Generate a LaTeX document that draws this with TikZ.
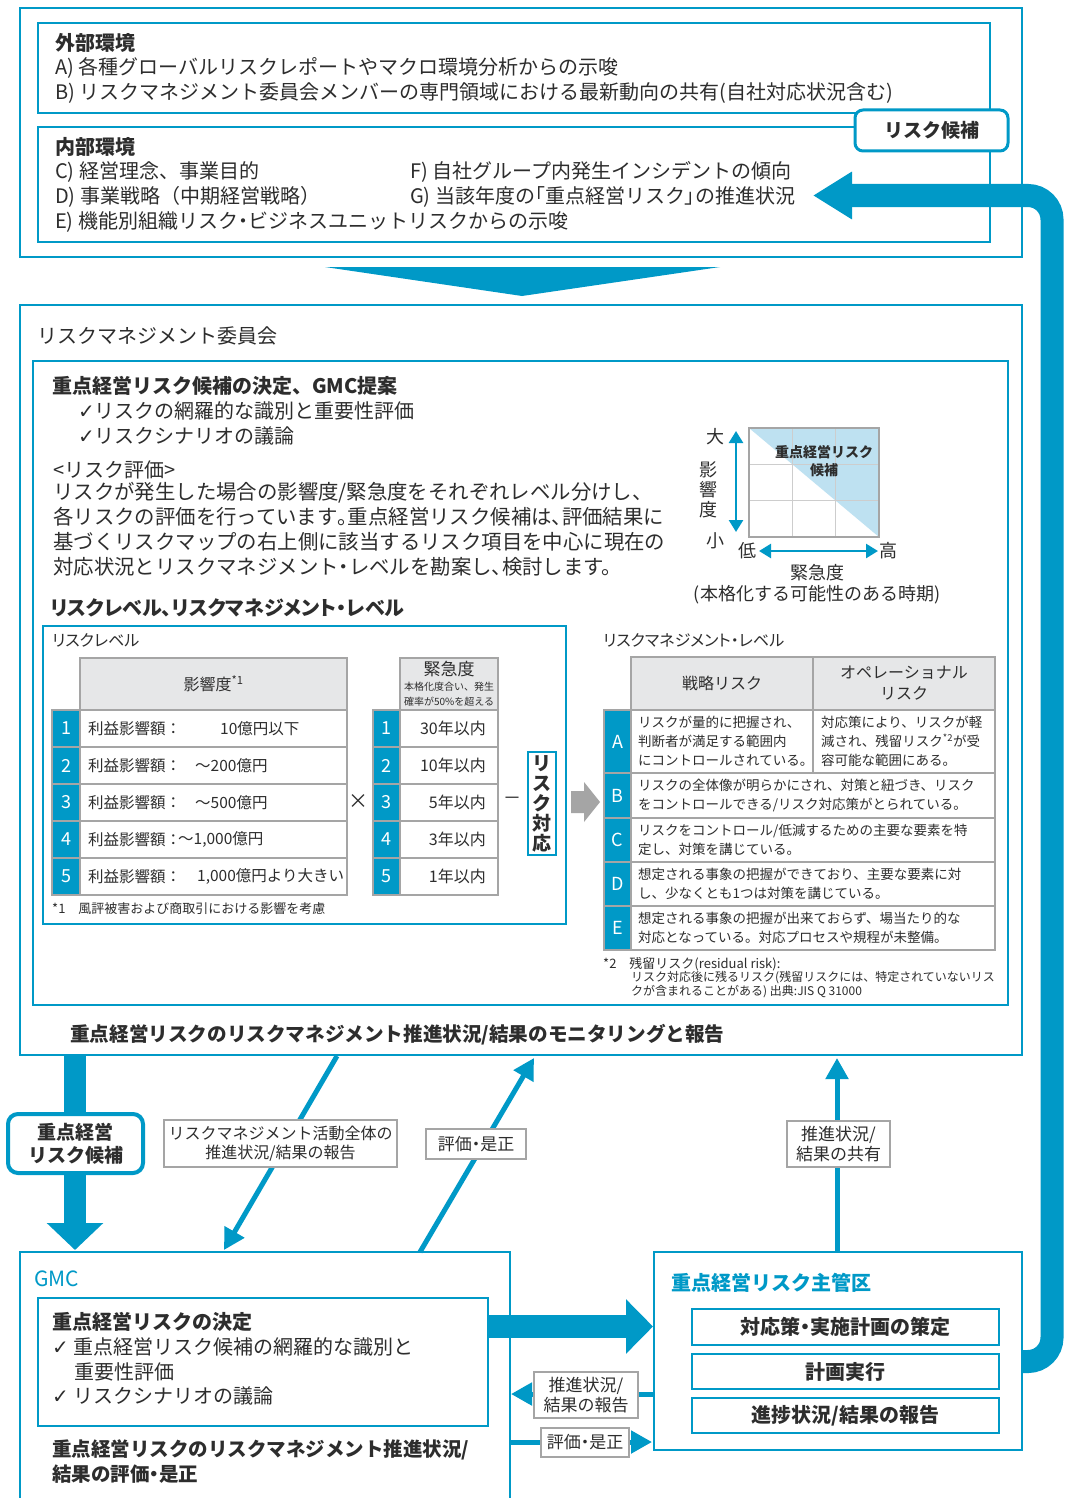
\documentclass[tikz,border=0pt]{standalone}
\usepackage{fontspec}
\setmainfont{Noto Sans CJK JP}
\newfontfamily\dv{DejaVu Sans}
\usetikzlibrary{arrows.meta}
\definecolor{mblue}{RGB}{0,153,199}
\definecolor{lgrey}{RGB}{165,165,165}
\definecolor{hgrey}{RGB}{230,231,232}
\definecolor{lblue}{RGB}{190,225,241}
\definecolor{gridc}{RGB}{205,205,205}
\definecolor{txt}{RGB}{45,45,45}
\newcommand\fsz[2]{\fontsize{#1pt}{#2pt}\selectfont}
\newcommand\bff[1]{\fontsize{#1pt}{#1pt}\selectfont\bfseries}
\newcommand\pp{\addfontfeature{RawFeature=+palt}}
\newcommand\pu[1]{{\pp#1}}
\newcommand\bx[7]{\node[#1,anchor=north west,inner sep=0pt,outer sep=0pt,minimum width={(#5)-(#3)},minimum height={(#6)-(#4)}] (#2) at (#3,#4) {#7};}
\newcommand\ck{{\dv\fontsize{20pt}{20pt}\selectfont ✓}}
\begin{document}
\begin{tikzpicture}[x=1pt,y=-1pt,
  obox/.style={draw=mblue,line width=2.6pt,fill=white},
  ibox/.style={draw=mblue,line width=1.4pt},
  gcell/.style={draw=lgrey,line width=1.6pt,fill=hgrey,text=txt,align=center},
  wcell/.style={draw=lgrey,line width=1.6pt,fill=white},
  bcell/.style={draw=lgrey,line width=1.6pt,fill=mblue,text=white,font=\fsz{18}{18}},
  lbl/.style={draw=lgrey,line width=1.6pt,fill=white,text=txt,align=center,font=\fsz{17}{20}},
  rbox/.style={draw=mblue,line width=3pt,rounded corners=8pt,fill=white,text=txt,align=center},
  sbox/.style={draw=mblue,line width=2pt,fill=white,text=txt,font=\bff{20}},
  t/.style={anchor=west,inner sep=0pt,text=txt},
  c/.style={inner sep=0pt,text=txt},
  thin/.style={draw=mblue,line width=5pt,-{Triangle[length=21pt,width=22pt]}},
]
\useasboundingbox (0,0) rectangle (1066,1498);
\fill[white] (0,0) rectangle (1066,1498);
\begin{scope}
\clip (0,0) rectangle (1066,1498);
% ---------------- top section
\bx{obox}{topbox}{20}{8}{1022}{257}{}
\bx{ibox}{extbox}{38}{23}{990}{113}{}
\bx{ibox}{intbox}{38}{127}{990}{242}{}
\node[t,font=\bff{20}] (exth) at (55,43) {外部環境};
\node[t,font=\fsz{20}{25}] (ta) at (55,68) {A) 各種グローバルリスクレポートやマクロ環境分析からの示唆};
\node[t,font=\fsz{20}{25}] (tb) at (55,93) {B) リスクマネジメント委員会メンバーの専門領域における最新動向の共有(自社対応状況含む)};
\node[t,font=\bff{20}] (inth) at (55,147) {内部環境};
\node[t,font=\fsz{20}{25}] (tc) at (55,172) {C) 経営理念、事業目的};
\node[t,font=\fsz{20}{25}] (td) at (55,197) {D) 事業戦略（中期経営戦略）};
\node[t,font=\fsz{20}{25}] (te) at (55,222) {E) 機能別組織リスク\pu{・}ビジネスユニットリスクからの示唆};
\node[t,font=\fsz{20}{25}] (tf) at (410,172) {F) 自社グループ内発生インシデントの傾向};
\node[t,font=\fsz{20}{25}] (tg) at (410,197) {G) 当該年度の\pu{「}重点経営リスク\pu{」}の推進状況};
\bx{rbox,font=\bff{19}}{candA}{855}{110}{1008}{151}{リスク候補}
\fill[mblue] (325,267) -- (720,267) -- (522,296) -- cycle;
% ---------------- committee
\bx{obox}{rmcbox}{20}{305}{1022}{1055}{}
\node[t,font=\fsz{20}{25}] (rmct) at (37,336) {リスクマネジメント委員会};
\bx{ibox}{rmcin}{33}{361}{1008}{1005}{}
\node[t,font=\bff{20}] (dech) at (52,386) {重点経営リスク候補の決定、GMC提案};
\node[t,font=\fsz{20}{25}] (ck1) at (78,411) {\ck リスクの網羅的な識別と重要性評価};
\node[t,font=\fsz{20}{25}] (ck2) at (78,436) {\ck リスクシナリオの議論};
\node[t,font=\fsz{20}{25}] (evh) at (53,470) {<リスク評価>};
\node[t,font=\fsz{20.4}{25},anchor=north west,align=left] (para) at (53,482) {リスクが発生した場合の影響度/緊急度をそれぞれレベル分けし、\\各リスクの評価を行っています\pu{。}重点経営リスク候補は\pu{、}評価結果に\\基づくリスクマップの右上側に該当するリスク項目を中心に現在の\\対応状況とリスクマネジメント\pu{・}レベルを勘案し\pu{、}検討します。};
\node[t,font=\fsz{20}{20}\bfseries\pp] (lvh) at (50,608) {リスクレベル、リスクマネジメント・レベル};
% risk map
\fill[lblue] (749,428) -- (879,428) -- (879,537) -- cycle;
\draw[gridc,line width=1.2pt] (792.3,428) -- (792.3,537) (835.7,428) -- (835.7,537) (749,464.3) -- (879,464.3) (749,500.7) -- (879,500.7);
\bx{draw=lgrey,line width=1.6pt}{map}{749}{428}{879}{537}{}
\node[c,font=\fsz{14}{18}\bfseries,align=center] (mapt) at (824,461) {重点経営リスク\\候補};
\coordinate (va1) at (736,431);
\coordinate (va2) at (736,532);
\draw[mblue,line width=2.5pt,{Triangle[length=12pt,width=14pt]}-{Triangle[length=12pt,width=14pt]}] (va1) -- (va2);
\coordinate (ha1) at (759,551);
\coordinate (ha2) at (878,551);
\draw[mblue,line width=2.5pt,{Triangle[length=12pt,width=14pt]}-{Triangle[length=12pt,width=14pt]}] (ha1) -- (ha2);
\node[c,font=\fsz{18}{20}] (mdai) at (715,437) {大};
\node[c,font=\fsz{18}{20},align=center] (meik) at (708,490) {影\\響\\度};
\node[c,font=\fsz{18}{20}] (msho) at (715,541) {小};
\node[c,font=\fsz{18}{20}] (mtei) at (747,551) {低};
\node[c,font=\fsz{18}{20}] (mkou) at (888,551) {高};
\node[c,font=\fsz{18}{20}] (mkin) at (817,573) {緊急度};
\node[c,font=\fsz{18}{20}] (mkik) at (817,595) {(本格化する可能性のある時期)};
% risk level table
\bx{ibox}{rlbox}{43}{626}{566}{924}{}
\node[t,font=\fsz{16}{18}\pp] (rlh) at (52,640) {リスクレベル};
\bx{gcell,font=\fsz{16}{18}}{h1}{80}{658}{347}{710}{影響度\textsuperscript{*1}}
\bx{gcell}{h2}{400}{658}{498}{710}{}
\node[c,font=\fsz{17}{18}] (h2a) at (449,669) {緊急度};
\node[c,font=\fsz{10}{12}] (h2b) at (449,687) {本格化度合い、発生};
\node[c,font=\fsz{10}{12}] (h2c) at (449,702) {確率が50\%を超える};
\foreach \i/\yr in {1/30,2/10,3/5,4/3,5/1}{
  \pgfmathsetmacro\ya{673+37*\i}
  \pgfmathsetmacro\yb{710+37*\i}
  \pgfmathsetmacro\yc{691.5+37*\i}
  \bx{bcell}{na\i}{52}{\ya}{80}{\yb}{\i}
  \bx{wcell}{ra\i}{80}{\ya}{347}{\yb}{}
  \node[t,font=\fsz{15.5}{18}] (la\i) at (88,\yc) {利益影響額：};
  \bx{bcell}{nb\i}{373}{\ya}{400}{\yb}{\i}
  \bx{wcell}{rb\i}{400}{\ya}{498}{\yb}{}
  \node[c,anchor=east,font=\fsz{16}{18}] (lb\i) at (486,\yc) {\yr 年以内};
}
\node[t,font=\fsz{15.5}{18}] (v1) at (220,728.5) {10億円以下};
\node[t,font=\fsz{15.5}{18}] (v2) at (195,765.5) {～200億円};
\node[t,font=\fsz{15.5}{18}] (v3) at (195,802.5) {～500億円};
\node[t,font=\fsz{15.5}{18}] (v4) at (178,839.5) {～1,000億円};
\node[t,font=\fsz{15.5}{18}] (v5) at (197,876.5) {1,000億円より大きい};
\node[c,font=\fsz{20}{20}] (times) at (358,802) {×};
\node[c,font=\fsz{18}{20}] (minus) at (512,801) {－};
\bx{draw=mblue,line width=1.6pt,fill=white,text=txt,align=center,font=\fsz{19}{20}\bfseries}{taiou}{528}{752}{556}{855}{リ\\ス\\ク\\対\\応}
\node[t,font=\fsz{13}{15}] (fn1) at (52,909) {*1\quad 風評被害および商取引における影響を考慮};
\fill[lgrey] (571,791) -- (584,791) -- (584,782) -- (600,802) -- (584,822) -- (584,813) -- (571,813) -- cycle;
% management level table
\node[t,font=\fsz{16}{18}\pp] (mlh) at (603,640) {リスクマネジメント・レベル};
\bx{gcell,font=\fsz{16}{18}}{mh1}{631}{657}{813}{710}{戦略リスク}
\bx{gcell,font=\fsz{16}{21}}{mh2}{813}{657}{995}{710}{オペレーショナル\\リスク}
\bx{bcell}{mA}{604}{710}{631}{773}{A}
\bx{wcell}{mA1}{631}{710}{813}{773}{}
\bx{wcell}{mA2}{813}{710}{995}{773}{}
\bx{bcell}{mB}{604}{773}{631}{818}{B}
\bx{wcell}{mB1}{631}{773}{995}{818}{}
\bx{bcell}{mC}{604}{818}{631}{862}{C}
\bx{wcell}{mC1}{631}{818}{995}{862}{}
\bx{bcell}{mD}{604}{862}{631}{906}{D}
\bx{wcell}{mD1}{631}{862}{995}{906}{}
\bx{bcell}{mE}{604}{906}{631}{950}{E}
\bx{wcell}{mE1}{631}{906}{995}{950}{}
\node[t,font=\fsz{13.5}{19},align=left] (tA1) at (638,741.5) {リスクが量的に把握され、\\判断者が満足する範囲内\\にコントロールされている。};
\node[t,font=\fsz{13.5}{19},align=left] (tA2) at (821,741.5) {対応策により、リスクが軽\\減され、残留リスク\textsuperscript{*2}が受\\容可能な範囲にある。};
\node[t,font=\fsz{13.5}{19},align=left] (tB) at (638,795.5) {リスクの全体像が明らかにされ、対策と紐づき、リスク\\をコントロールできる/リスク対応策がとられている。};
\node[t,font=\fsz{13.5}{19},align=left] (tC) at (638,840) {リスクをコントロール/低減するための主要な要素を特\\定し、対策を講じている。};
\node[t,font=\fsz{13.5}{19},align=left] (tD) at (638,884) {想定される事象の把握ができており、主要な要素に対\\し、少なくとも1つは対策を講じている。};
\node[t,font=\fsz{13.5}{19},align=left] (tE) at (638,928) {想定される事象の把握が出来ておらず、場当たり的な\\対応となっている。対応プロセスや規程が未整備。};
\node[t,font=\fsz{13}{14}] (fn2) at (603,964) {*2\quad 残留リスク(residual risk):};
\node[t,font=\fsz{12}{14},align=left,anchor=north west] (fn2b) at (631,971) {リスク対応後に残るリスク(残留リスクには、特定されていないリス\\クが含まれることがある) 出典:JIS Q 31000};
\node[t,font=\fsz{19.6}{20}\bfseries] (mon) at (70,1035) {重点経営リスクのリスクマネジメント推進状況/結果のモニタリングと報告};
% ---------------- lower section
\bx{obox}{gmc}{20}{1252}{510}{1520}{}
\bx{obox}{shu}{654}{1252}{1022}{1450}{}
\node[t,font=\fsz{21}{24},text=mblue] (gmct) at (34,1279) {GMC};
\bx{ibox}{gmcin}{38}{1298}{488}{1426}{}
\node[t,font=\bff{20}] (gd) at (52,1322) {重点経営リスクの決定};
\node[t,font=\fsz{20}{25}] (gd1) at (52,1347) {\ck\ 重点経営リスク候補の網羅的な識別と};
\node[t,font=\fsz{20}{25}] (gd2) at (74,1372) {重要性評価};
\node[t,font=\fsz{20}{25}] (gd3) at (52,1396) {\ck\ リスクシナリオの議論};
\node[t,font=\fsz{19.5}{25}\bfseries,align=left] (ge) at (52,1461.5) {重点経営リスクのリスクマネジメント推進状況/\\結果の評価\pu{・}是正};
\node[t,font=\bff{20},text=mblue] (shut) at (671,1283) {重点経営リスク主管区};
\bx{sbox}{s1}{692}{1309}{999}{1345}{対応策\pu{・}実施計画の策定}
\bx{sbox}{s2}{692}{1354}{999}{1389}{計画実行}
\bx{sbox}{s3}{692}{1398}{999}{1433}{進捗状況/結果の報告}
% connectors
\coordinate (td1) at (75,1056);
\coordinate (td2) at (75,1250);
\draw[mblue,line width=22pt,-{Triangle[length=27pt,width=55pt]}] (td1) -- (td2);
\bx{rbox,line width=4pt,rounded corners=10pt,font=\fsz{19}{23}\bfseries}{cand2}{8}{1114}{143}{1173}{重点経営\\リスク候補}
\coordinate (d1a) at (337,1056);
\coordinate (d1b) at (224,1250);
\draw[thin] (d1a) -- (d1b);
\coordinate (d2a) at (420,1252);
\coordinate (d2b) at (534,1058);
\draw[thin] (d2a) -- (d2b);
\coordinate (d3a) at (837,1252);
\coordinate (d3b) at (837,1058);
\draw[thin] (d3a) -- (d3b);
\bx{lbl,font=\fsz{16}{19}}{lb1}{164}{1120}{397}{1167}{リスクマネジメント活動全体の\\推進状況/結果の報告}
\bx{lbl,font=\fsz{17}{20}\pp}{lb2}{426}{1129}{526}{1159}{評価・是正}
\bx{lbl}{lb3}{787}{1121}{890}{1167}{推進状況/\\結果の共有}
\coordinate (ra1) at (488,1326.5);
\coordinate (ra2) at (653,1326.5);
\draw[mblue,line width=23pt,-{Triangle[length=27pt,width=53pt]}] (ra1) -- (ra2);
\coordinate (la1) at (654,1394);
\coordinate (la2) at (511,1394);
\draw[thin] (la1) -- (la2);
\bx{lbl}{lb4}{534}{1372}{638}{1418}{推進状況/\\結果の報告}
\coordinate (rb1) at (510,1442);
\coordinate (rb2) at (652,1442);
\draw[thin] (rb1) -- (rb2);
\bx{lbl,font=\fsz{17}{20}\pp}{lb5}{541}{1428}{629}{1457}{評価・是正}
% loop
\coordinate (lp1) at (1021,1361.5);
\coordinate (lp2) at (1052,1361.5);
\coordinate (lp3) at (1052,195.5);
\coordinate (lp4) at (813,195.5);
\draw[mblue,line width=23pt,rounded corners=24pt,-{Triangle[length=39pt,width=45pt]}] (lp1) -- (lp2) -- (lp3) -- (lp4);
\end{scope}
\end{tikzpicture}
\end{document}
